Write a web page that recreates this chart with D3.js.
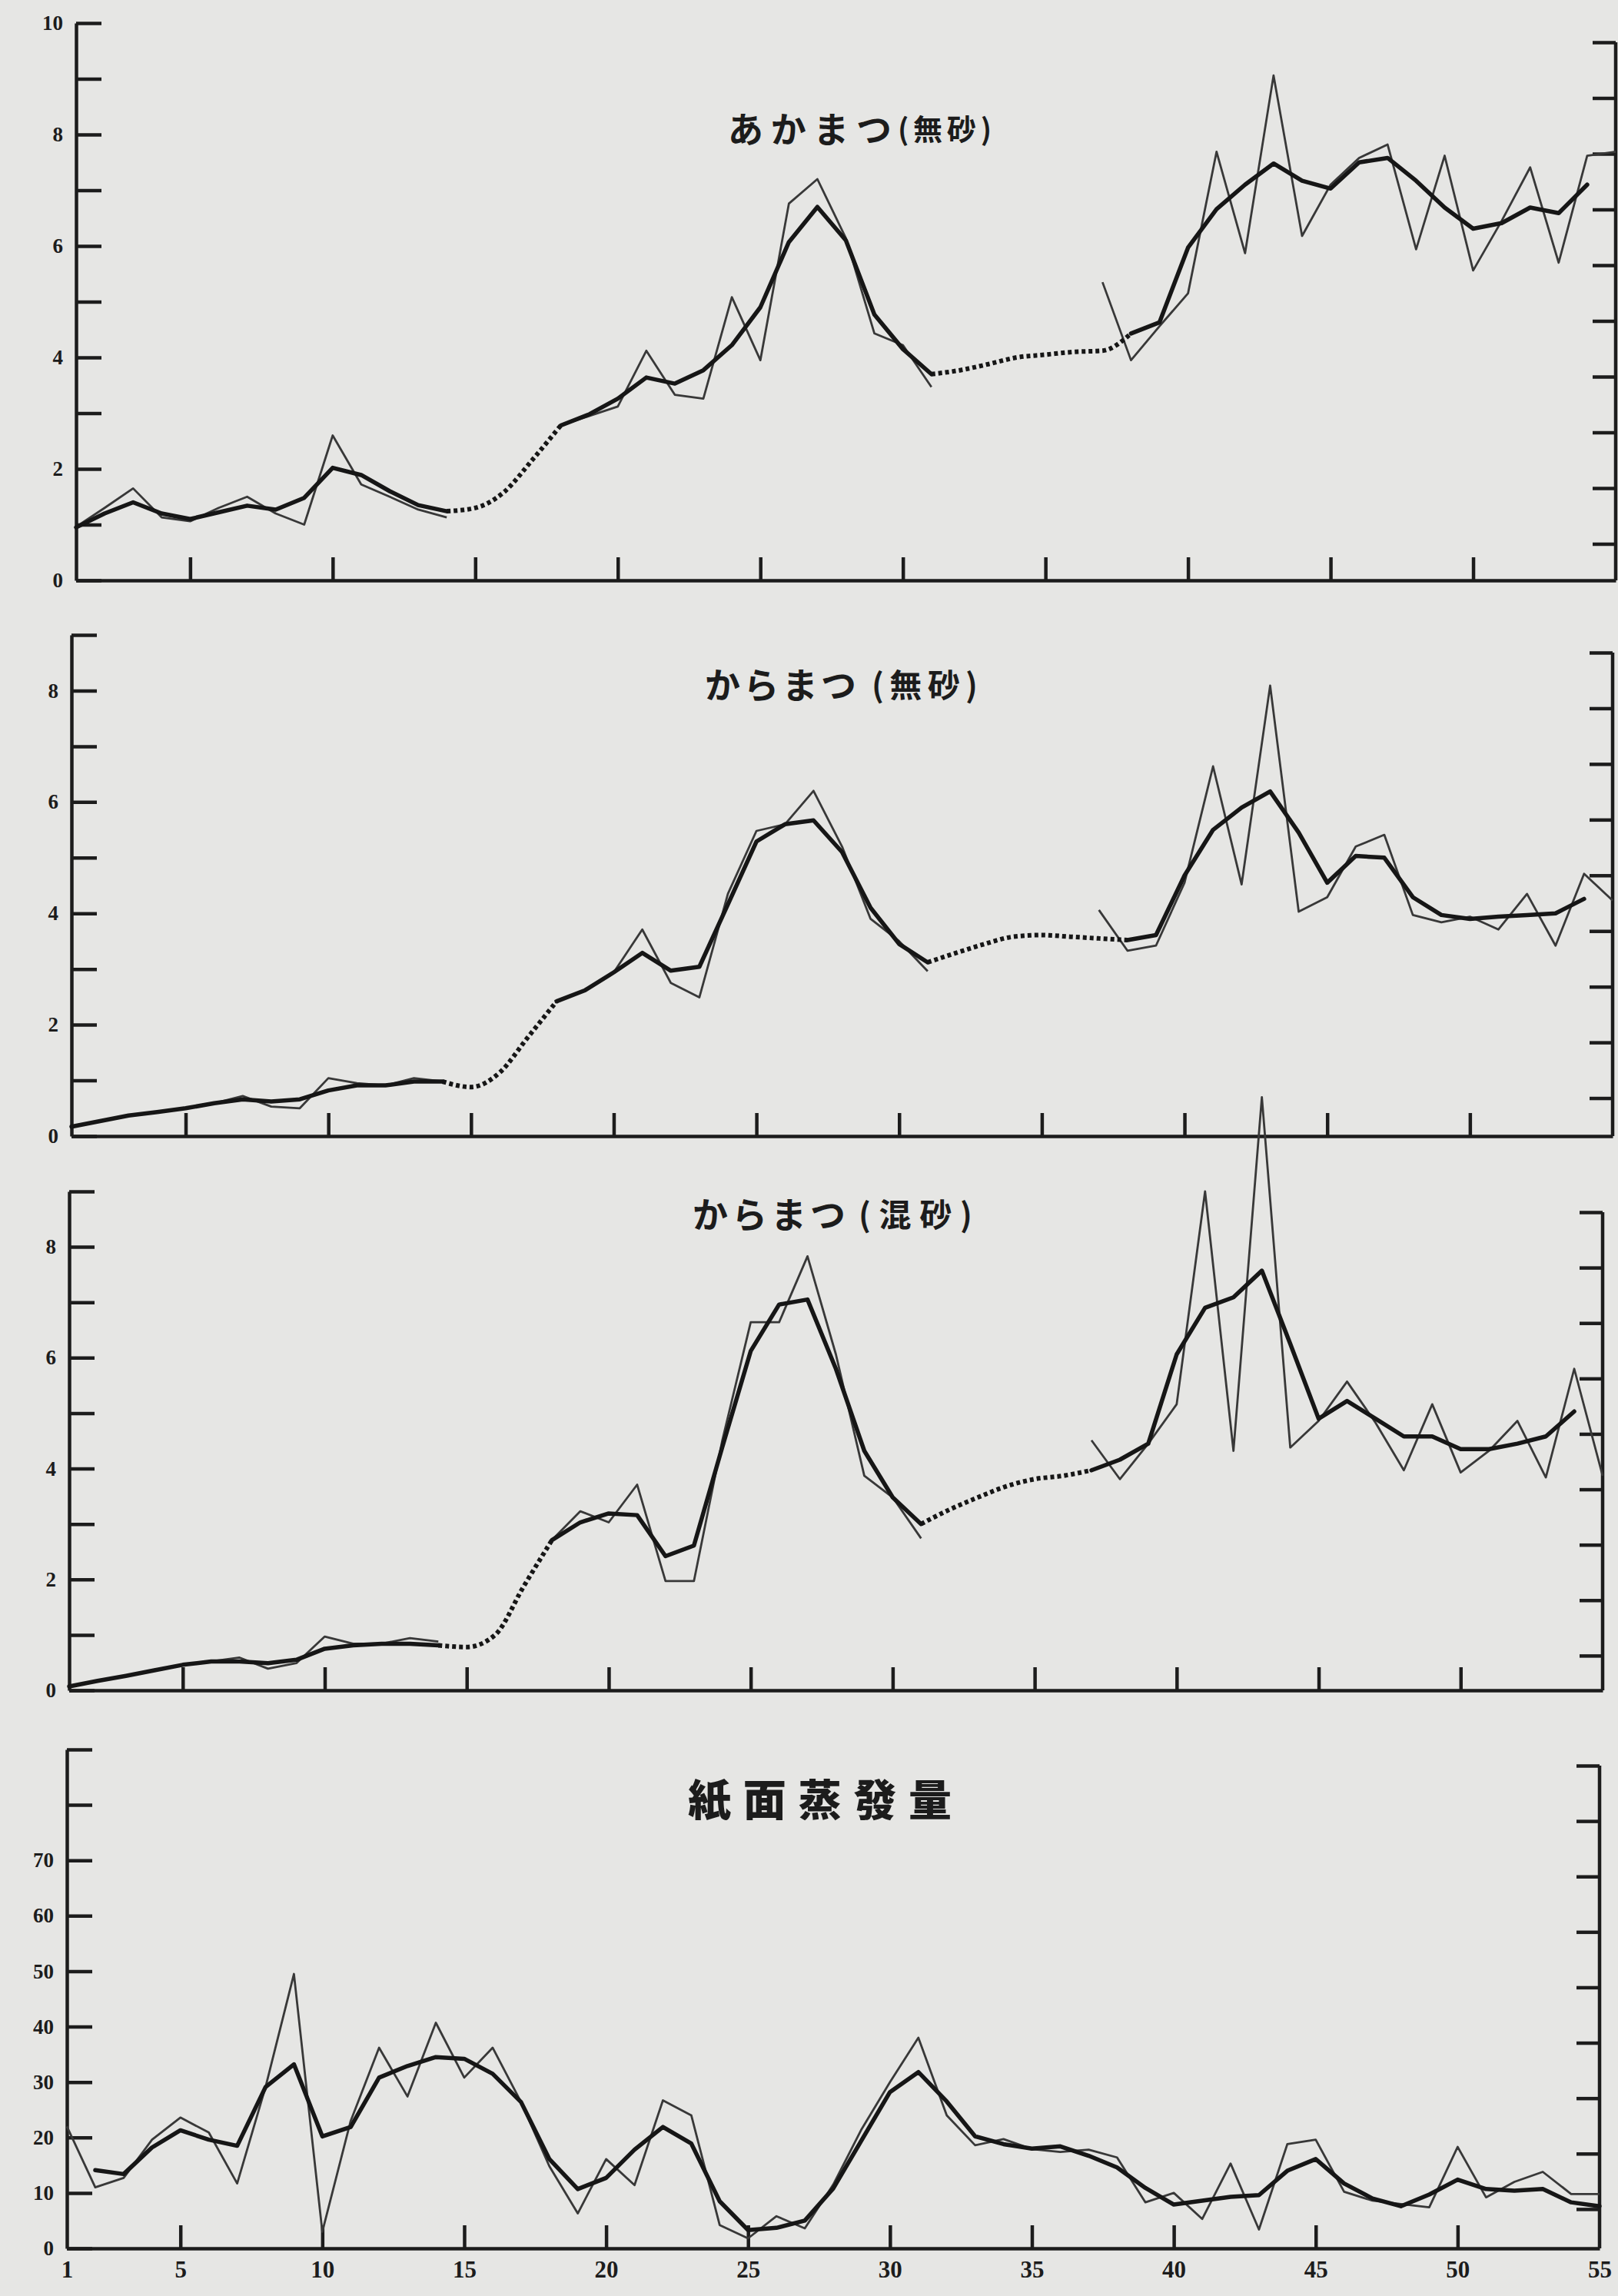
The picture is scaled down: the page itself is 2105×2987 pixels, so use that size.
<!DOCTYPE html>
<html>
<head>
<meta charset="utf-8">
<script src="https://cdn.jsdelivr.net/npm/d3@7"></script>
<style>
  body { margin: 0; background: #e6e6e4; }
  svg { display: block; }
  .raw { fill: none; stroke: #383838; stroke-width: 2.8; stroke-linejoin: round; }
  .smooth { fill: none; stroke: #161616; stroke-width: 5.5; stroke-linejoin: round; stroke-linecap: round; }
  .dots { fill: none; stroke: #161616; stroke-width: 6; stroke-dasharray: 5 4; }
  .axis path, .axis line { stroke: #1c1c1c; stroke-width: 4.5; }
  .axis text { font-family: "Liberation Serif", serif; font-weight: bold; font-size: 27px; fill: #1c1c1c; }
  .title { font-family: "Noto Sans CJK JP", sans-serif; fill: #1c1c1c; }
</style>
</head>
<body>
<div id="chart"></div>
<script>
var days = d3.range(1, 56);

// あかまつ (無砂)
var akaRaw = [0.96, 1.3, 1.65, 1.13, 1.06, 1.3, 1.5, 1.2, 1.0, 2.6, 1.72, 1.5, 1.27, 1.13,
  null, null, null,
  2.78, 2.95, 3.12, 4.12, 3.33, 3.26, 5.08, 3.95, 6.76, 7.2, 6.14, 4.43, 4.22, 3.47,
  null, null, null, null, null,
  5.35, 3.95, 4.56, 5.15, 7.69, 5.87, 9.06, 6.18, 7.1, 7.58, 7.82, 5.94, 7.62, 5.56, 6.45, 7.41, 5.7, 7.62, 7.69];
var akaSmooth = [0.95, 1.2, 1.4, 1.2, 1.1, 1.22, 1.34, 1.27, 1.48, 2.02, 1.89, 1.6, 1.35, 1.24,
  null, null, null,
  2.78, 2.98, 3.26, 3.64, 3.53, 3.77, 4.22, 4.9, 6.07, 6.7, 6.1, 4.77, 4.15, 3.7,
  null, null, null, null, null, null,
  4.43, 4.63, 5.97, 6.66, 7.1, 7.48, 7.17, 7.03, 7.5, 7.58, 7.17, 6.69, 6.31, 6.41, 6.69, 6.59, 7.1,
  null];
var akaDots = [null, null, null, null, null, null, null, null, null, null, null, null, null,
  1.24, 1.3, 1.58, 2.16, 2.78,
  null, null, null, null, null, null, null, null, null, null, null, null,
  3.7, 3.77, 3.88, 4.0, 4.05, 4.1, 4.12, 4.43,
  null, null, null, null, null, null, null, null, null, null, null, null, null, null, null, null, null];

// からまつ (無砂)
var karaNoRaw = [0.17, 0.27, 0.37, 0.43, 0.5, 0.59, 0.72, 0.53, 0.5, 1.04, 0.95, 0.91, 1.04, 0.98,
  null, null, null,
  2.42, 2.62, 2.94, 3.71, 2.75, 2.49, 4.35, 5.48, 5.6, 6.2, 5.2, 3.9, 3.5, 2.96,
  null, null, null, null, null,
  4.06, 3.33, 3.42, 4.55, 6.64, 4.52, 8.09, 4.03, 4.29, 5.2, 5.41, 3.97, 3.84, 3.94, 3.71, 4.35, 3.42, 4.71, 4.23];
var karaNoSmooth = [0.17, 0.27, 0.37, 0.43, 0.5, 0.59, 0.66, 0.62, 0.66, 0.82, 0.91, 0.91, 0.98, 0.98,
  null, null, null,
  2.42, 2.62, 2.94, 3.29, 2.97, 3.04, 4.16, 5.29, 5.6, 5.67, 5.1, 4.1, 3.45, 3.12,
  null, null, null, null, null, null,
  3.52, 3.61, 4.68, 5.5, 5.9, 6.19, 5.45, 4.55, 5.03, 5.0, 4.29, 3.97, 3.9, 3.94, 3.97, 4.0, 4.26,
  null];
var karaNoDots = [null, null, null, null, null, null, null, null, null, null, null, null, null,
  0.98, 0.88, 1.14, 1.78, 2.42,
  null, null, null, null, null, null, null, null, null, null, null, null,
  3.12, 3.29, 3.45, 3.58, 3.61, 3.58, 3.55, 3.52,
  null, null, null, null, null, null, null, null, null, null, null, null, null, null, null, null, null];

// からまつ (混砂)
var karaMixRaw = [0.07, 0.17, 0.26, 0.36, 0.46, 0.52, 0.59, 0.39, 0.49, 0.97, 0.84, 0.84, 0.94, 0.88,
  null, null, null,
  2.71, 3.23, 3.03, 3.71, 1.97, 1.97, 4.51, 6.64, 6.64, 7.83, 6.06, 3.87, 3.48, 2.74,
  null, null, null, null, null,
  4.51, 3.81, 4.45, 5.16, 9.0, 4.32, 10.7, 4.38, 4.86, 5.57, 4.83, 3.97, 5.16, 3.93, 4.32, 4.86, 3.84, 5.8, 3.87];
var karaMixSmooth = [0.07, 0.17, 0.26, 0.36, 0.46, 0.52, 0.52, 0.49, 0.55, 0.75, 0.81, 0.84, 0.84, 0.81,
  null, null, null,
  2.71, 3.03, 3.19, 3.16, 2.42, 2.61, 4.39, 6.12, 6.96, 7.05, 5.8, 4.32, 3.48, 3.0,
  null, null, null, null, null,
  3.97, 4.16, 4.45, 6.06, 6.9, 7.09, 7.57, 6.25, 4.9, 5.22, 4.9, 4.58, 4.58, 4.35, 4.35, 4.45, 4.58, 5.03,
  null];
var karaMixDots = [null, null, null, null, null, null, null, null, null, null, null, null, null,
  0.81, 0.78, 1.0, 1.87, 2.71,
  null, null, null, null, null, null, null, null, null, null, null, null,
  3.0, 3.26, 3.48, 3.68, 3.81, 3.87, 3.97,
  null, null, null, null, null, null, null, null, null, null, null, null, null, null, null, null, null, null];

// 紙面蒸發量
var evapRaw = [22, 11.0, 12.7, 19.6, 23.6, 20.9, 11.7, 29.1, 49.5, 3.0,
  23.0, 36.2, 27.4, 40.7, 30.8, 36.2, 26.4, 14.8, 6.3, 16.1,
  11.4, 26.7, 24.0, 4.2, 1.8, 5.8, 3.6, 11.5, 21.5, 30,
  38, 24, 18.6, 19.7, 17.9, 17.4, 17.8, 16.4, 8.3, 10.0,
  5.3, 15.3, 3.4, 18.8, 19.6, 10.2, 8.6, 8.0, 7.4, 18.3,
  9.2, 12.0, 13.8, 9.8, 9.8];
var evapSmooth = [null, 14.1, 13.4, 18.2, 21.3, 19.6, 18.5, 29.1, 33.2, 20.2,
  21.9, 30.8, 32.9, 34.5, 34.2, 31.5, 26.4, 16.1, 10.7, 12.7,
  17.8, 21.9, 18.9, 8.5, 3.3, 3.7, 5.0, 10.8, 19.5, 28.2,
  31.8, 26.5, 20.2, 18.8, 18, 18.4, 16.7, 14.6, 10.9, 7.9,
  8.6, 9.3, 9.6, 14.0, 16.1, 11.7, 9.0, 7.6, 9.7, 12.4,
  10.7, 10.4, 10.7, 8.3, 7.6];

var labelsA = [0, 2, 4, 6, 8, 10];
var labelsB = [0, 2, 4, 6, 8];
var labelsEvap = [0, 10, 20, 30, 40, 50, 60, 70];
var dayTicks = [5, 10, 15, 20, 25, 30, 35, 40, 45, 50];
var dayLabels = [1, 5, 10, 15, 20, 25, 30, 35, 40, 45, 50, 55];

var panels = [
  { name: "あかまつ", sub: "(無砂)", raw: akaRaw, smooth: akaSmooth, dots: akaDots, top: 10, step: 1, labels: labelsA },
  { name: "からまつ", sub: "(無砂)", raw: karaNoRaw, smooth: karaNoSmooth, dots: karaNoDots, top: 9, step: 1, labels: labelsB },
  { name: "からまつ", sub: "(混砂)", raw: karaMixRaw, smooth: karaMixSmooth, dots: karaMixDots, top: 9, step: 1, labels: labelsB },
  { name: "紙面蒸發量", sub: null, raw: evapRaw, smooth: evapSmooth, dots: null, top: 90, step: 10, labels: labelsEvap }
];

// where each panel sits on the page
var layout = [
  { left: 99, right: 2102, base: 755, topY: 30, shift: 25, main: [947, 1160], subX: [1168, 1290], ty: 165, fs: 46, sfs: 38, weight: 700 },
  { left: 93, right: 2098, base: 1478, topY: 826, shift: 23, main: [917, 1114], subX: [1134, 1272], ty: 888, fs: 46, sfs: 42, weight: 700 },
  { left: 90, right: 2085, base: 2199, topY: 1550, shift: 27, main: [901, 1100], subX: [1117, 1265], ty: 1577, fs: 46, sfs: 42, weight: 700 },
  { left: 87, right: 2081, base: 2925, topY: 2276, shift: 21, main: [895, 1238], subX: null, ty: 2337, fs: 56, sfs: 0, weight: 900 }
];

var width = 2105, height = 2987;

var svg = d3.select("#chart").append("svg")
    .attr("width", width)
    .attr("height", height);

svg.append("rect")
    .attr("width", width)
    .attr("height", height)
    .attr("fill", "#e6e6e4");

panels.forEach(function (p, k) {
    var L = layout[k];
    var g = svg.append("g").attr("class", "panel");

    var x = d3.scaleLinear().domain([1, 55]).range([L.left, L.right]);
    var y = d3.scaleLinear().domain([0, p.top]).range([L.base, L.topY]);
    var yRight = y.copy().range([L.base + L.shift, L.topY + L.shift]);

    var leftTicks = d3.range(p.step, p.top + p.step / 2, p.step);

    // left axis, ticks point inwards
    g.append("g")
        .attr("class", "axis")
        .attr("transform", "translate(" + L.left + ",0)")
        .call(d3.axisLeft(y)
            .tickValues([0].concat(leftTicks))
            .tickSize(-33)
            .tickSizeOuter(0)
            .tickPadding(17)
            .tickFormat(function (d) { return p.labels.indexOf(d) >= 0 ? d : ""; }));

    // right axis, no labels
    var ra = g.append("g")
        .attr("class", "axis")
        .attr("transform", "translate(" + L.right + ",0)")
        .call(d3.axisRight(yRight)
            .tickValues(leftTicks)
            .tickSize(-30)
            .tickFormat(""));
    ra.select(".domain").remove();
    ra.append("line")
        .attr("x1", 0).attr("x2", 0)
        .attr("y1", y(0))
        .attr("y2", yRight(p.top));

    // bottom axis
    var bottom = d3.axisBottom(x)
        .tickSize(-30)
        .tickSizeOuter(0)
        .tickPadding(16);
    if (k === 3) {
        bottom.tickValues(dayLabels).tickFormat(d3.format("d"));
    } else {
        bottom.tickValues(dayTicks).tickFormat("");
    }
    var bx = g.append("g")
        .attr("class", "axis")
        .attr("transform", "translate(0," + L.base + ")")
        .call(bottom);
    bx.selectAll("text").style("font-size", "31px");
    if (k === 3) {
        bx.selectAll(".tick line").filter(function (d) { return d === 1 || d === 55; }).remove();
    }

    var rawLine = d3.line()
        .defined(function (d) { return d != null; })
        .x(function (d, i) { return x(days[i]); })
        .y(function (d) { return y(d); });

    var dotLine = d3.line()
        .defined(function (d) { return d != null; })
        .x(function (d, i) { return x(days[i]); })
        .y(function (d) { return y(d); })
        .curve(d3.curveMonotoneX);

    g.append("path")
        .datum(p.raw)
        .attr("class", "raw")
        .attr("d", rawLine);

    g.append("path")
        .datum(p.smooth)
        .attr("class", "smooth")
        .attr("d", rawLine);

    if (p.dots) {
        g.append("path")
            .datum(p.dots)
            .attr("class", "dots")
            .attr("d", dotLine);
    }

    // title
    g.append("text")
        .attr("class", "title")
        .attr("x", L.main[0])
        .attr("y", L.ty)
        .attr("dominant-baseline", "central")
        .attr("textLength", L.main[1] - L.main[0])
        .attr("lengthAdjust", "spacing")
        .style("font-size", L.fs + "px")
        .style("font-weight", L.weight)
        .text(p.name);

    if (p.sub) {
        g.append("text")
            .attr("class", "title")
            .attr("x", L.subX[0])
            .attr("y", L.ty)
            .attr("dominant-baseline", "central")
            .attr("textLength", L.subX[1] - L.subX[0])
            .attr("lengthAdjust", "spacing")
            .style("font-size", L.sfs + "px")
            .style("font-weight", L.weight)
            .text(p.sub);
    }
});
</script>
</body>
</html>
